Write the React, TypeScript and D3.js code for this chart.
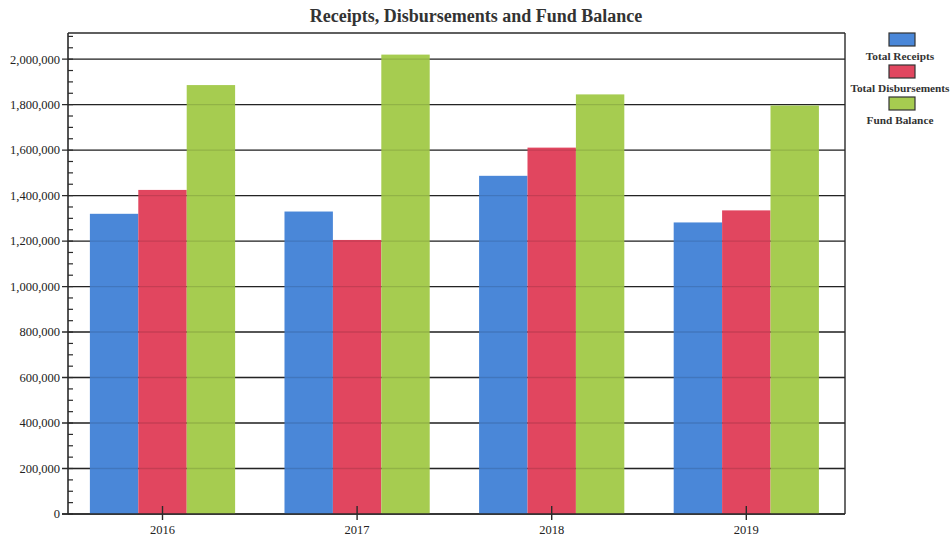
import React from "react";
import * as d3 from "d3";

const years = ["2016", "2017", "2018", "2019"];
const seriesNames = ["Total Receipts", "Total Disbursements", "Fund Balance"];
const totalReceipts = [1320000, 1330000, 1487000, 1282000];
const totalDisbursements = [1425000, 1205000, 1611000, 1335000];
const fundBalance = [1886000, 2020000, 1845000, 1796000];
const yTicks = [0, 200000, 400000, 600000, 800000, 1000000, 1200000, 1400000, 1600000, 1800000, 2000000];
const colors = ["#4a87d8", "#e1465f", "#a6cc50"];
const title = "Receipts, Disbursements and Fund Balance";

const seriesValues = [totalReceipts, totalDisbursements, fundBalance];

export default function App() {
  const W = 951, H = 538;
  const left = 68, right = 845, top = 33, bottom = 514;
  const font = "'Liberation Serif', 'Times New Roman', serif";

  const y = d3.scaleLinear().domain([0, 2115000]).range([bottom, top]);
  const x0 = d3.scaleBand<string>().domain(years).range([65.2, 843.6]).padding(0);
  const x1 = d3
    .scaleBand<string>()
    .domain(seriesNames)
    .range([0, x0.bandwidth()])
    .paddingInner(0)
    .paddingOuter(0.51);

  const minor = d3.range(0, 2100001, 50000);
  const fmt = d3.format(",");

  return (
    <svg
      width={W}
      height={H}
      style={{ position: "absolute", left: 0, top: 0, background: "#fff" }}
      fontFamily={font}
    >
      <rect x={0} y={0} width={W} height={H} fill="#fff" />
      <text
        x={476}
        y={22}
        textAnchor="middle"
        fontSize={18}
        fontWeight="bold"
        fill="#333"
      >
        {title}
      </text>

      {/* gridlines */}
      {yTicks.map((t) => (
        <line
          key={"g" + t}
          x1={left - 6}
          x2={right}
          y1={y(t)}
          y2={y(t)}
          stroke="#2a2a2a"
          strokeWidth={1.4}
        />
      ))}
      <line x1={left} x2={right} y1={top} y2={top} stroke="#2a2a2a" strokeWidth={1.4} />

      {/* bars */}
      {years.map((yr, i) => (
        <g key={yr} transform={`translate(${x0(yr)},0)`}>
          {seriesNames.map((s, j) => {
            const v = seriesValues[j][i];
            return (
              <rect
                key={s}
                x={x1(s)}
                y={y(v)}
                width={x1.bandwidth()}
                height={bottom - y(v)}
                fill={colors[j]}
              />
            );
          })}
        </g>
      ))}

      {/* faint gridlines over bars */}
      {yTicks.slice(1).map((t) => (
        <line
          key={"o" + t}
          x1={left}
          x2={right}
          y1={y(t)}
          y2={y(t)}
          stroke="#000"
          strokeOpacity={0.12}
          strokeWidth={1.4}
        />
      ))}

      {/* axes frame */}
      <line x1={left} x2={left} y1={top} y2={bottom} stroke="#2a2a2a" strokeWidth={1.6} />
      <line x1={right} x2={right} y1={top} y2={bottom} stroke="#2a2a2a" strokeWidth={1.4} />
      <line x1={left - 6} x2={right} y1={bottom} y2={bottom} stroke="#2a2a2a" strokeWidth={1.6} />

      {/* minor ticks */}
      {minor.map((t) => (
        <line
          key={"m" + t}
          x1={left}
          x2={left + 5}
          y1={y(t)}
          y2={y(t)}
          stroke="#2a2a2a"
          strokeWidth={1.2}
        />
      ))}

      {/* y labels */}
      {yTicks.map((t) => (
        <text
          key={"l" + t}
          x={left - 8}
          y={y(t)}
          dy="0.35em"
          textAnchor="end"
          fontSize={12.5}
          fill="#222"
        >
          {fmt(t)}
        </text>
      ))}

      {/* x ticks and labels */}
      {years.map((yr) => {
        const cx = (x0(yr) as number) + x0.bandwidth() / 2;
        return (
          <g key={"x" + yr}>
            <line x1={cx} x2={cx} y1={bottom - 8} y2={bottom + 6} stroke="#2a2a2a" strokeWidth={1.4} />
            <text x={cx} y={534} textAnchor="middle" fontSize={12.5} fill="#222">
              {yr}
            </text>
          </g>
        );
      })}

      {/* legend */}
      {seriesNames.map((s, j) => {
        const sy = 33 + j * 32;
        return (
          <g key={"lg" + s}>
            <rect
              x={889}
              y={sy}
              width={26}
              height={13}
              fill={colors[j]}
              stroke="#333"
              strokeWidth={1.2}
            />
            <text
              x={900}
              y={sy + 27}
              textAnchor="middle"
              fontSize={11.3}
              fontWeight="bold"
              fill="#333"
            >
              {s}
            </text>
          </g>
        );
      })}
    </svg>
  );
}
